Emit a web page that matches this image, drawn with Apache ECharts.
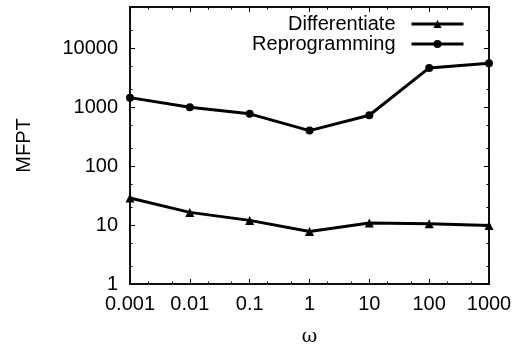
<!DOCTYPE html>
<html>
<head>
<meta charset="utf-8">
<script src="https://cdn.jsdelivr.net/npm/echarts@6/dist/echarts.min.js"></script>
<style>
  html, body { margin: 0; padding: 0; background: #fff; }
  #chart { width: 517px; height: 352px; }
</style>
</head>
<body>
<div id="chart"></div>
<script>
// Mean first passage time against switching rate omega (both log scaled)
const omega = [0.001, 0.01, 0.1, 1, 10, 100, 1000];
const differentiate = [28.7, 16.4, 12.0, 7.8, 10.8, 10.5, 9.85];
const reprogramming = [1450, 1000, 770, 400, 730, 4630, 5570];

const xTickLabels = ['0.001', '0.01', '0.1', '1', '10', '100', '1000'];
const yTickValues = [1, 10, 100, 1000, 10000];
const yTickLabels = ['1', '10', '100', '1000', '10000'];

const X_MIN = 0.001, X_MAX = 1000;
const Y_MIN = 1, Y_MAX = 50000;

const FONT = '"Liberation Sans", Arial, Helvetica, sans-serif';
const INK = '#000';

// minor ticks at 2x and 5x of every decade inside the range
function minorTicks(lo, hi) {
  const out = [];
  for (let d = lo; d < hi * 0.999; d *= 10) {
    [2, 5].forEach(m => {
      const v = +(d * m).toPrecision(6);
      if (v <= hi * 1.0001) out.push(v);
    });
  }
  return out;
}
const xMinor = minorTicks(X_MIN, X_MAX);
const yMinor = minorTicks(Y_MIN, Y_MAX);

function labelFor(values, labels) {
  return v => {
    for (let i = 0; i < values.length; i++) {
      if (Math.abs(Math.log10(values[i]) - Math.log10(v)) < 1e-6) return labels[i];
    }
    return '';
  };
}

function xAxisDef(position, ticks, tickLen, withLabels) {
  return {
    type: 'log',
    logBase: 10,
    min: X_MIN,
    max: X_MAX,
    position: position,
    splitLine: { show: false },
    axisLine: { show: true, onZero: false, lineStyle: { color: INK, width: 1.5 } },
    axisTick: { show: true, inside: true, length: tickLen, customValues: ticks,
                lineStyle: { color: INK, width: 1 } },
    axisLabel: withLabels ? {
      show: true, customValues: omega, margin: 10,
      color: INK, fontFamily: FONT, fontSize: 20,
      formatter: labelFor(omega, xTickLabels)
    } : { show: false },
    name: withLabels ? 'ω' : '',
    nameLocation: 'middle',
    nameGap: 44,
    nameTextStyle: { color: INK, fontFamily: '"DejaVu Serif", "Liberation Serif", serif', fontSize: 19 }
  };
}

function yAxisDef(position, ticks, tickLen, withLabels) {
  return {
    type: 'log',
    logBase: 10,
    min: Y_MIN,
    max: Y_MAX,
    position: position,
    splitLine: { show: false },
    axisLine: { show: true, onZero: false, lineStyle: { color: INK, width: 1.5 } },
    axisTick: { show: true, inside: true, length: tickLen, customValues: ticks,
                lineStyle: { color: INK, width: 1 } },
    axisLabel: withLabels ? {
      show: true, customValues: yTickValues, margin: 12,
      color: INK, fontFamily: FONT, fontSize: 20,
      formatter: labelFor(yTickValues, yTickLabels)
    } : { show: false },
    name: withLabels ? 'MFPT' : '',
    nameLocation: 'middle',
    nameRotate: 90,
    nameGap: 96,
    nameTextStyle: { color: INK, fontFamily: FONT, fontSize: 20 }
  };
}

const chart = echarts.init(document.getElementById('chart'), null, { renderer: 'canvas' });

chart.setOption({
  animation: false,
  backgroundColor: '#fff',
  grid: { left: 130, right: 28, top: 7, bottom: 68, containLabel: false, outerBoundsMode: 'none' },
  xAxis: [
    xAxisDef('bottom', omega, 5, true),
    xAxisDef('bottom', xMinor, 2.5, false),
    xAxisDef('top', omega, 5, false),
    xAxisDef('top', xMinor, 2.5, false)
  ],
  yAxis: [
    yAxisDef('left', yTickValues, 5, true),
    yAxisDef('left', yMinor, 2.5, false),
    yAxisDef('right', yTickValues, 5, false),
    yAxisDef('right', yMinor, 2.5, false)
  ],
  legend: {
    data: ['Differentiate', 'Reprogramming'],
    orient: 'vertical',
    align: 'right',
    right: 47,
    top: 9,
    itemWidth: 52,
    itemHeight: 10,
    itemGap: 0,
    selectedMode: false,
    lineStyle: { width: 3, color: INK },
    textStyle: { color: INK, fontFamily: FONT, fontSize: 20, padding: [0, 11, 0, 0] }
  },
  series: [
    {
      name: 'Differentiate',
      type: 'line',
      xAxisIndex: 0,
      yAxisIndex: 0,
      data: omega.map((w, i) => [w, differentiate[i]]),
      symbol: 'triangle',
      symbolSize: 9,
      lineStyle: { color: INK, width: 3 },
      itemStyle: { color: INK }
    },
    {
      name: 'Reprogramming',
      type: 'line',
      xAxisIndex: 0,
      yAxisIndex: 0,
      data: omega.map((w, i) => [w, reprogramming[i]]),
      symbol: 'circle',
      symbolSize: 8,
      lineStyle: { color: INK, width: 3 },
      itemStyle: { color: INK }
    }
  ]
});
</script>
</body>
</html>
